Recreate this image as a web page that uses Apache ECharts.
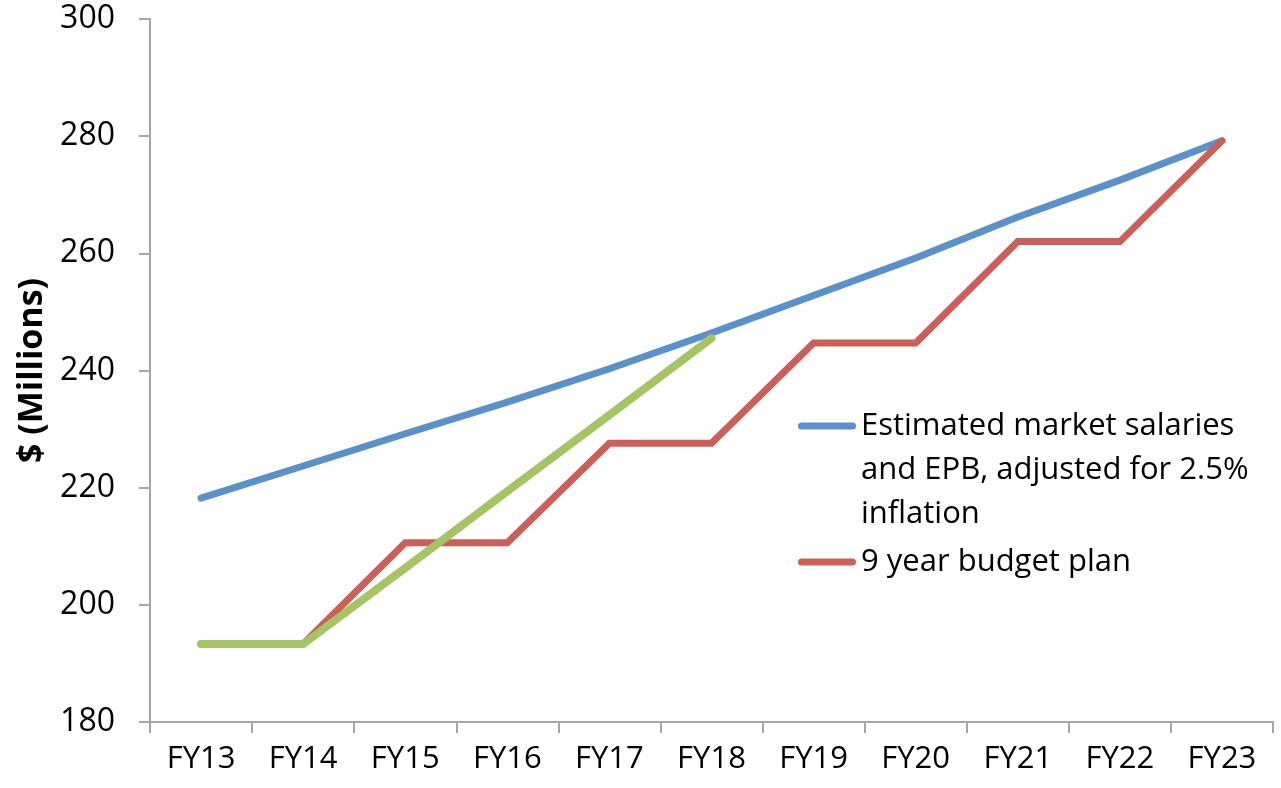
<!DOCTYPE html>
<html>
<head>
<meta charset="utf-8">
<script src="https://cdn.jsdelivr.net/npm/echarts@6/dist/echarts.min.js"></script>
<style>
html,body{margin:0;padding:0;background:#fff;}
#chart{width:1281px;height:788px;}
</style>
</head>
<body>
<div id="chart"></div>
<script>
const categories = ['FY13','FY14','FY15','FY16','FY17','FY18','FY19','FY20','FY21','FY22','FY23'];
const marketSalaries = [218.2, 223.7, 229.2, 234.6, 240.3, 246.4, 252.8, 259.2, 266.2, 272.5, 279.2];
const budgetPlan = [193.3, 193.3, 210.6, 210.6, 227.6, 227.6, 244.7, 244.7, 262.0, 262.0, 279.2];
const actualTrend = [193.3, 193.3, 206.3, 219.4, 232.4, 245.5, null, null, null, null, null];
const yTicks = [180, 200, 220, 240, 260, 280, 300];

const seriesNames = {
  blue: 'Estimated market salaries and EPB, adjusted for 2.5% inflation',
  red: '9 year budget plan',
  green: 'Trend'
};

const FONT = 'Open Sans';
const chart = echarts.init(document.getElementById('chart'), null, {renderer: 'canvas'});
const iconPath = 'path://M3.5,0 L54.5,0 A3.5,3.5 0 0 1 54.5,7 L3.5,7 A3.5,3.5 0 0 1 3.5,0 Z';

chart.setOption({
  animation: false,
  backgroundColor: '#ffffff',
  grid: {left: 150, right: 8, top: 19, bottom: 66, containLabel: false},
  legend: {
    data: [seriesNames.blue, seriesNames.red],
    orient: 'vertical',
    left: 798,
    top: 316,
    padding: 0,
    itemGap: 4,
    itemWidth: 58,
    itemHeight: 7,
    icon: iconPath,
    selectedMode: false,
    formatter: function (name) {
      if (name === seriesNames.blue) {
        return '\n\nEstimated market salaries\nand EPB, adjusted for 2.5%\ninflation';
      }
      return name;
    },
    textStyle: {fontFamily: FONT, fontSize: 31, color: '#000', lineHeight: 44}
  },
  xAxis: {
    type: 'category',
    data: categories,
    boundaryGap: true,
    axisLine: {lineStyle: {color: '#a6a6a6', width: 2}},
    axisTick: {show: true, length: 11, interval: 0, lineStyle: {color: '#a6a6a6', width: 2}},
    axisLabel: {fontFamily: FONT, fontSize: 31, color: '#000', margin: 22, interval: 0},
    splitLine: {show: false}
  },
  yAxis: {
    type: 'value',
    min: yTicks[0],
    max: yTicks[yTicks.length - 1],
    interval: 20,
    name: '$ (Millions)',
    nameLocation: 'middle',
    nameGap: 101,
    nameTextStyle: {fontFamily: FONT, fontSize: 34, fontWeight: 'bold', color: '#000'},
    axisLine: {show: true, lineStyle: {color: '#a6a6a6', width: 2}},
    axisTick: {show: true, length: 11, lineStyle: {color: '#a6a6a6', width: 2}},
    axisLabel: {fontFamily: FONT, fontSize: 32, color: '#000', margin: 35},
    splitLine: {show: false}
  },
  series: [
    {
      name: seriesNames.blue,
      type: 'line',
      data: marketSalaries,
      showSymbol: false,
      symbol: 'none',
      color: '#5b91cb',
      lineStyle: {width: 7, color: '#5b91cb', cap: 'round', join: 'round'},
      z: 3
    },
    {
      name: seriesNames.red,
      type: 'line',
      data: budgetPlan,
      showSymbol: false,
      symbol: 'none',
      color: '#cc6058',
      lineStyle: {width: 7, color: '#cc6058', cap: 'round', join: 'miter'},
      z: 4
    },
    {
      name: seriesNames.green,
      type: 'line',
      data: actualTrend,
      showSymbol: false,
      symbol: 'none',
      color: '#a6c464',
      lineStyle: {width: 8, color: '#a6c464', cap: 'round', join: 'miter'},
      z: 5
    }
  ]
});
</script>
</body>
</html>
